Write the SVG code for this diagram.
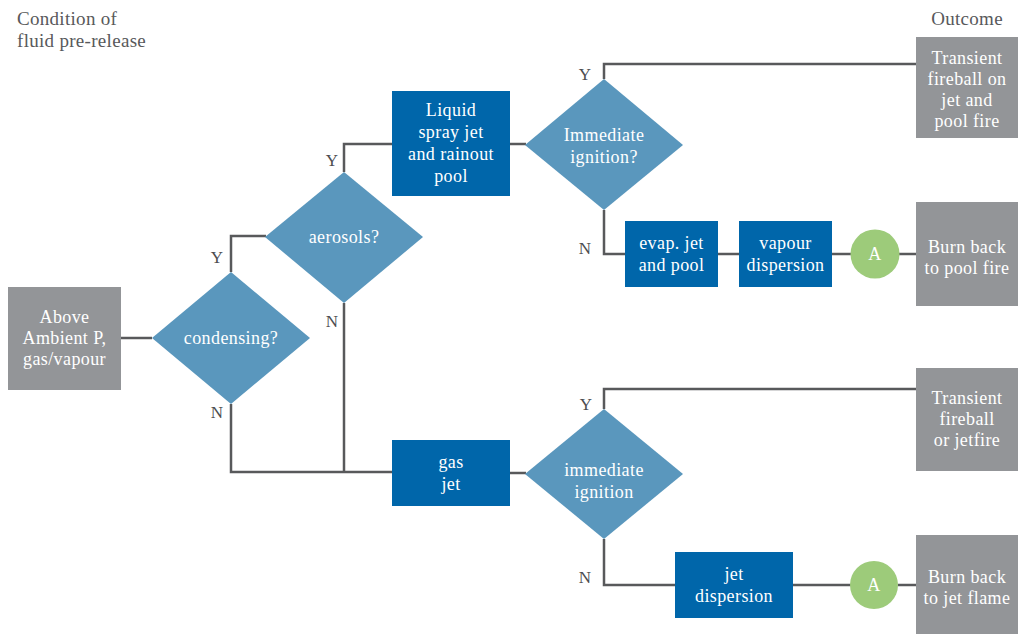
<svg xmlns="http://www.w3.org/2000/svg" width="1018" height="634" viewBox="0 0 1018 634">
<style>
text{font-family:"Liberation Serif","Times New Roman",serif;}
.t{fill:#fff;font-size:18px;letter-spacing:0.4px;text-anchor:middle;}
.h{fill:#58595b;font-size:19px;letter-spacing:0.3px;}
.lbl{fill:#4d4d4f;font-size:17px;text-anchor:middle;}
.gray{fill:#939598;}
.blue{fill:#0066aa;}
.dia{fill:#5a97bd;}
.circ{fill:#9dcb7a;}
.c{fill:none;stroke:#58595b;stroke-width:2.5;}
</style>
<rect width="1018" height="634" fill="#fff"/>
<g id="headers">
<text class="h" x="17" y="25">Condition of</text>
<text class="h" x="17" y="47">fluid pre-release</text>
<text class="h" x="967" y="25" text-anchor="middle">Outcome</text>
</g>
<g id="connectors">
<path class="c" d="M121,338H152"/>
<path class="c" d="M231,272V236H266"/>
<path class="c" d="M231,404V472H392"/>
<path class="c" d="M344,172V144H392"/>
<path class="c" d="M344,303V472"/>
<path class="c" d="M510,144H526"/>
<path class="c" d="M604,79V64H916"/>
<path class="c" d="M604,210V254H625"/>
<path class="c" d="M718,254H739"/>
<path class="c" d="M832,254H851"/>
<path class="c" d="M899,254H916"/>
<path class="c" d="M510,473H526"/>
<path class="c" d="M604,409V389H916"/>
<path class="c" d="M604,539V585H675"/>
<path class="c" d="M793,585H851"/>
<path class="c" d="M898,585H916"/>
<text class="lbl" x="217" y="263">Y</text>
<text class="lbl" x="217" y="418">N</text>
<text class="lbl" x="332" y="166">Y</text>
<text class="lbl" x="332" y="327">N</text>
<text class="lbl" x="585" y="80">Y</text>
<text class="lbl" x="585" y="254">N</text>
<text class="lbl" x="586" y="410">Y</text>
<text class="lbl" x="585" y="583">N</text>
</g>
<g id="start">
<rect class="gray" x="8" y="287" width="113" height="103"/>
<text class="t" x="64.5" y="323">Above</text>
<text class="t" x="64.5" y="344">Ambient P,</text>
<text class="t" x="64.5" y="365">gas/vapour</text>
</g>
<g id="condensing">
<polygon class="dia" points="231,272 310,338 231,404 152,338"/>
<text class="t" x="231" y="344">condensing?</text>
</g>
<g id="aerosols">
<polygon class="dia" points="344,172 423,237 344,303 265,237"/>
<text class="t" x="344" y="243">aerosols?</text>
</g>
<g id="liquid">
<rect class="blue" x="392" y="91" width="118" height="105"/>
<text class="t" x="451" y="116">Liquid</text>
<text class="t" x="451" y="138">spray jet</text>
<text class="t" x="451" y="160">and rainout</text>
<text class="t" x="451" y="182">pool</text>
</g>
<g id="immediate1">
<polygon class="dia" points="604,79 683,145 604,210 525,145"/>
<text class="t" x="604" y="141">Immediate</text>
<text class="t" x="604" y="163">ignition?</text>
</g>
<g id="evap">
<rect class="blue" x="625" y="221" width="93" height="66"/>
<text class="t" x="671.5" y="249">evap. jet</text>
<text class="t" x="671.5" y="271">and pool</text>
</g>
<g id="vapour">
<rect class="blue" x="739" y="221" width="93" height="66"/>
<text class="t" x="785.5" y="249">vapour</text>
<text class="t" x="785.5" y="271">dispersion</text>
</g>
<g id="a1">
<circle class="circ" cx="875" cy="254" r="24.5"/>
<text class="t" x="875" y="260">A</text>
</g>
<g id="out1">
<rect class="gray" x="916" y="37" width="102" height="101"/>
<text class="t" x="967" y="64">Transient</text>
<text class="t" x="967" y="85">fireball on</text>
<text class="t" x="967" y="106">jet and</text>
<text class="t" x="967" y="127">pool fire</text>
</g>
<g id="out2">
<rect class="gray" x="916" y="202" width="102" height="104"/>
<text class="t" x="967" y="253">Burn back</text>
<text class="t" x="967" y="274">to pool fire</text>
</g>
<g id="gasjet">
<rect class="blue" x="392" y="440" width="118" height="66"/>
<text class="t" x="451" y="468">gas</text>
<text class="t" x="451" y="490">jet</text>
</g>
<g id="immediate2">
<polygon class="dia" points="604,409 683,474 604,539 525,474"/>
<text class="t" x="604" y="476">immediate</text>
<text class="t" x="604" y="498">ignition</text>
</g>
<g id="jetdisp">
<rect class="blue" x="675" y="552" width="118" height="66"/>
<text class="t" x="734" y="580">jet</text>
<text class="t" x="734" y="602">dispersion</text>
</g>
<g id="a2">
<circle class="circ" cx="874" cy="585" r="24"/>
<text class="t" x="874" y="591">A</text>
</g>
<g id="out3">
<rect class="gray" x="916" y="368" width="102" height="103"/>
<text class="t" x="967" y="404">Transient</text>
<text class="t" x="967" y="425">fireball</text>
<text class="t" x="967" y="446">or jetfire</text>
</g>
<g id="out4">
<rect class="gray" x="916" y="535" width="102" height="100"/>
<text class="t" x="967" y="583">Burn back</text>
<text class="t" x="967" y="604">to jet flame</text>
</g>
</svg>
